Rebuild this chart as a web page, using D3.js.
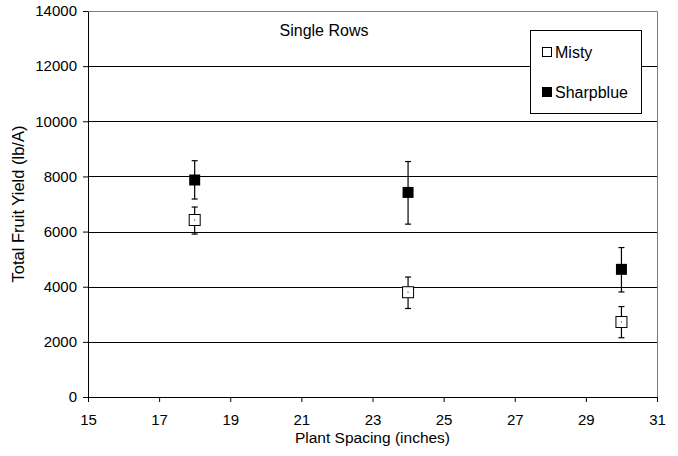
<!DOCTYPE html>
<html>
<head>
<meta charset="utf-8">
<script src="https://cdn.jsdelivr.net/npm/d3@7"></script>
<style>
  body { margin: 0; background: #fff; }
  text { font-family: "Liberation Sans", Arial, sans-serif; }
</style>
</head>
<body>
<script>
// spacing (inches) and yields (lb/A)
const spacing = [18, 24, 30];
const misty = [6420, 3800, 2720];
const mistyLow = [5910, 3210, 2150];
const mistyHigh = [6890, 4350, 3280];
const sharpblue = [7870, 7420, 4630];
const sharpLow = [7180, 6270, 3810];
const sharpHigh = [8570, 8540, 5420];
const xTicks = [15, 17, 19, 21, 23, 25, 27, 29, 31];
const yTicks = [0, 2000, 4000, 6000, 8000, 10000, 12000, 14000];

const W = 678, H = 456;
const margin = { top: 11, right: 21, bottom: 59, left: 88 };
const width = W - margin.left - margin.right;
const height = H - margin.top - margin.bottom;

const svg = d3.select("body").append("svg")
  .attr("width", W).attr("height", H);
const g = svg.append("g")
  .attr("transform", "translate(" + margin.left + "," + margin.top + ")");

const x = d3.scaleLinear().domain([15, 31]).range([0, width]);
const y = d3.scaleLinear().domain([0, 14000]).range([height, 0]);

// gridlines
g.selectAll(".grid").data(yTicks.slice(1, -1)).enter().append("line")
  .attr("x1", 0).attr("x2", width)
  .attr("y1", d => Math.round(y(d)) + 0.5).attr("y2", d => Math.round(y(d)) + 0.5)
  .attr("stroke", "#000").attr("stroke-width", 1);

// top & right border
g.append("path")
  .attr("d", "M0.5,0.5H" + (width + 0.5) + "V" + height)
  .attr("fill", "none").attr("stroke", "#808080");

// axes
const xAxis = g.append("g")
  .attr("transform", "translate(0," + height + ")")
  .call(d3.axisBottom(x).tickValues(xTicks).tickSize(5).tickPadding(12).tickSizeOuter(0));
const yAxis = g.append("g")
  .call(d3.axisLeft(y).tickValues(yTicks).tickSize(5).tickPadding(6).tickSizeOuter(0).tickFormat(d3.format("d")));
[xAxis, yAxis].forEach(a => {
  a.selectAll("text").attr("font-size", 15).attr("fill", "#000")
    .attr("font-family", "'Liberation Sans', Arial, sans-serif");
  a.selectAll("line, path").attr("stroke", "#000");
});

// error bars
function errorBars(low, high, cls) {
  const eb = g.selectAll("." + cls).data(spacing).enter().append("g").attr("class", cls);
  eb.append("line")
    .attr("x1", d => x(d)).attr("x2", d => x(d))
    .attr("y1", (d, i) => y(low[i])).attr("y2", (d, i) => y(high[i]))
    .attr("stroke", "#000").attr("stroke-width", 1.2);
  [low, high].forEach(arr => {
    eb.append("line")
      .attr("x1", d => x(d) - 3).attr("x2", d => x(d) + 3)
      .attr("y1", (d, i) => y(arr[i])).attr("y2", (d, i) => y(arr[i]))
      .attr("stroke", "#000").attr("stroke-width", 1.2);
  });
}
errorBars(mistyLow, mistyHigh, "ebm");
errorBars(sharpLow, sharpHigh, "ebs");

// markers
g.selectAll(".misty").data(spacing).enter().append("rect")
  .attr("x", d => x(d) - 5.5).attr("y", (d, i) => y(misty[i]) - 5.5)
  .attr("width", 11).attr("height", 11)
  .attr("fill", "#fff").attr("stroke", "#000").attr("stroke-width", 1);
g.selectAll(".mistydot").data(spacing).enter().append("rect")
  .attr("x", d => x(d) - 0.5).attr("y", (d, i) => y(misty[i]) - 0.5)
  .attr("width", 1).attr("height", 1).attr("fill", "#000");
g.selectAll(".sharp").data(spacing).enter().append("rect")
  .attr("x", d => x(d) - 5.5).attr("y", (d, i) => y(sharpblue[i]) - 5.5)
  .attr("width", 11).attr("height", 11)
  .attr("fill", "#000");

// title inside plot
svg.append("text").attr("x", 324).attr("y", 36).attr("text-anchor", "middle")
  .attr("font-size", 16).text("Single Rows");

// legend
const lg = svg.append("g");
lg.append("rect").attr("x", 530.5).attr("y", 30.5).attr("width", 111).attr("height", 83)
  .attr("fill", "#fff").attr("stroke", "#000");
lg.append("rect").attr("x", 542.5).attr("y", 47.5).attr("width", 9).attr("height", 9)
  .attr("fill", "#fff").attr("stroke", "#000");
lg.append("text").attr("x", 555).attr("y", 58).attr("font-size", 16).text("Misty");
lg.append("rect").attr("x", 542).attr("y", 87).attr("width", 10).attr("height", 10)
  .attr("fill", "#000");
lg.append("text").attr("x", 555).attr("y", 98).attr("font-size", 16).text("Sharpblue");

// axis titles
svg.append("text").attr("x", margin.left + width / 2).attr("y", 443)
  .attr("text-anchor", "middle").attr("font-size", 15.5).text("Plant Spacing (inches)");
svg.append("text")
  .attr("transform", "translate(24," + (margin.top + height / 2) + ") rotate(-90)")
  .attr("text-anchor", "middle").attr("font-size", 16.5).text("Total Fruit Yield (lb/A)");
</script>
</body>
</html>
